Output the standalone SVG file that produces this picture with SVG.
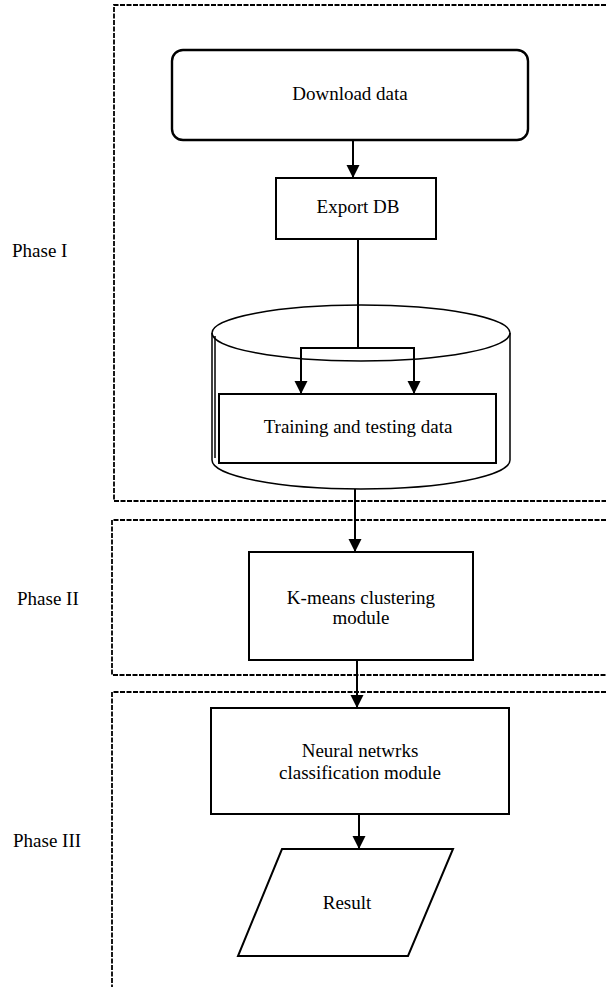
<svg xmlns="http://www.w3.org/2000/svg" width="606" height="987" viewBox="0 0 606 987">
  <style>
    .bg { fill: #ffffff; }
    .shape { fill: #ffffff; stroke: #000000; stroke-width: 2; }
    .thin { fill: none; stroke: #000000; stroke-width: 1.5; }
    .phase { fill: none; stroke: #000000; stroke-width: 1.8; stroke-dasharray: 5 1.5; }
    .edge { fill: none; stroke: #000000; stroke-width: 2; }
    .arrow { marker-end: url(#head); }
    text { font-family: "Liberation Serif", "Times New Roman", serif; font-size: 19px; fill: #000000; }
    .c { text-anchor: middle; }
  </style>
  <defs>
    <marker id="head" markerUnits="userSpaceOnUse" markerWidth="14" markerHeight="14" refX="13" refY="6.5" orient="auto">
      <path d="M0,0 L13,6.5 L0,13 z" fill="#000000"/>
    </marker>
  </defs>

  <rect class="bg" x="0" y="0" width="606" height="987"/>

  <!-- phase frames (open on the right) -->
  <g id="phase1">
    <path class="phase" d="M606,5 H114 V501 H606"/>
    <text x="12" y="257">Phase I</text>
  </g>
  <g id="phase2">
    <path class="phase" d="M606,520 H112 V675 H606"/>
    <text x="17" y="605">Phase II</text>
  </g>
  <g id="phase3">
    <path class="phase" d="M606,692 H112 V987"/>
    <text x="13" y="847">Phase III</text>
  </g>

  <!-- nodes -->
  <g id="download">
    <rect class="shape" x="172" y="50" width="356" height="90" rx="11" ry="11" style="stroke-width:2.4"/>
    <text class="c" x="350" y="100">Download data</text>
  </g>

  <g id="export">
    <rect class="shape" x="276" y="178" width="160" height="61"/>
    <text class="c" x="358" y="213">Export DB</text>
  </g>

  <g id="database">
    <path class="thin" d="M212,333 V460 A149,29 0 0 0 510,460 V333"/>
    <path class="thin" d="M215,336 V458"/>
    <ellipse class="thin" cx="361" cy="333" rx="149" ry="28"/>
  </g>

  <g id="training">
    <rect class="shape" x="219" y="394" width="277" height="69"/>
    <text class="c" x="358" y="433">Training and testing data</text>
  </g>

  <g id="kmeans">
    <rect class="shape" x="249" y="552" width="224" height="108"/>
    <text class="c" x="361" y="604">K-means clustering</text>
    <text class="c" x="361" y="624">module</text>
  </g>

  <g id="neural">
    <rect class="shape" x="211" y="708" width="298" height="106"/>
    <text class="c" x="360" y="757">Neural netwrks</text>
    <text class="c" x="360" y="779">classification module</text>
  </g>

  <g id="result">
    <path class="shape" d="M282,849 H453 L408,956 H238 z"/>
    <text class="c" x="347" y="909">Result</text>
  </g>

  <!-- connectors -->
  <g id="connectors">
    <path class="edge arrow" d="M353,141 V178"/>
    <path class="edge" d="M358,239 V348"/>
    <path class="edge" d="M301,348 H414"/>
    <path class="edge arrow" d="M301,347 V394"/>
    <path class="edge arrow" d="M414,347 V394"/>
    <path class="edge arrow" d="M355,489 V552"/>
    <path class="edge arrow" d="M357,660 V708"/>
    <path class="edge arrow" d="M359,814 V849"/>
  </g>
</svg>
